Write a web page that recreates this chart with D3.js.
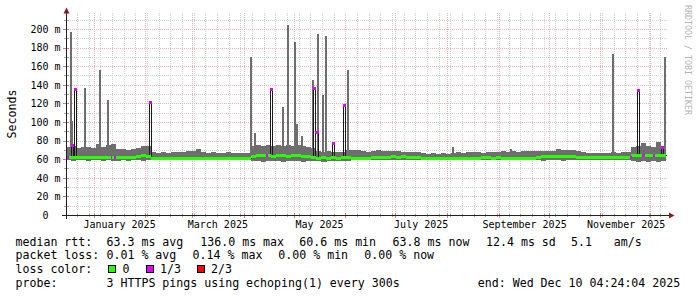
<!DOCTYPE html>
<html><head><meta charset="utf-8">
<script src="https://cdn.jsdelivr.net/npm/d3@7"></script>
<style>html,body{margin:0;padding:0;background:#fff;}svg{display:block}</style>
</head><body>
<svg id="c" width="697" height="297"></svg>
<script>
// ---------- DATA ----------
const START = "2024-12-15T04:24:04Z";
const END   = "2025-12-10T04:24:04Z";
const BUCKET_DAYS = 3;           // each entry below covers 3 days
const smokeMax = [
 73,74,72.5,73,73.5,72,76,73.5,75,76,
 71,70.5,70,70.5,72,74.5,74,67.5,67,67.5,
 67,67.5,68,67.5,68.5,68.5,71,67.5,67,67.5,
 67,67,67.5,66.5,67,66.5,67,74,75,74.5,
 75.5,74.5,75,74,75,74.5,75.5,74,73,72,
 69,68,68.5,68,67.5,67.5,69.5,70,69.5,68.5,
 68,69,69.5,69,69,68.5,68.5,68,67.5,68,
 67.5,66.5,66,66.5,66,66.5,66,67,67.5,67,
 67.5,67.8,67.5,67,67.5,67.8,68,68.5,68,68.5,
 68,68.5,69,68.5,68.8,69,68.5,69,71.5,69.5,
 70,69.5,69,67.5,67,66.5,67,66.5,67,67.5,
 67,67.5,68,73,74,77,74,73.5,78,73];
const smokeMin = [
 59,58.5,59,59,58.5,59,59,58.5,59,58.5,58,59,58.5,59,59,58.5,59,
 59,59.2,59,58.8,59,59.2,59,58.8,59,59,59.2,59,58.8,59,59,59.2,59,58.8,59,59,
 58,58.5,57.5,58,58.5,58,57.5,58.5,58,58,57.5,58,58.5,58,57.5,58,58.5,58,58.5,58.5,
 59,59,58.8,59,59.2,59,58.8,59,59,59,58.8,59,59.2,59,59,58.8,59,59,59.2,59,58.8,59,59,59,58.8,59,59.2,59,59,58.8,59,59,59.2,59,
 59,58.8,59,59,58.5,58.8,59,58.8,58.5,59,58.8,59,59,59.2,59,58.8,59,59,59.2,59,58.8,59,
 57.8,57.5,58,57.5,57.8,57.5,58];
const medianRtt = [
 62.5,62.8,62.5,62.8,62.5,62.5,62.8,62.5,62.8,62.5,62.2,62.5,62.2,62.5,
 63.8,64.2,63.8,
 61,60.8,61,61.3,61,61,61.5,61,60.8,61.3,61,61,61.5,61.3,61,61,60.8,61,61.3,61,
 63.5,64,64.2,64,63.8,64.2,64,63.8,64.2,64,63.8,63.5,
 62,61.8,62.2,61.8,62,61.8,62,62.2,
 61.6,61.5,61.8,61.5,
 62.2,62,62.2,
 62.8,63,62.8,63,62.5,62.8,62.2,61.5,
 61,60.9,61,60.8,61,60.9,61,60.8,61,61,60.9,
 62,62,61.8,62,
 61.3,61.3,61.5,61.3,
 61.6,61.8,61.5,62.5,
 63.2,63,63.4,63.2,63,63.4,63.2,62.8,
 62.2,62,62.2,62.4,62,62.2,62.4,62,62.2,62.5,
 64,64.2,64,64.3,64,64.2,64];
// single-step smoke peaks (day offset from START, max rtt ms)
const spikeDay = [2.4,3.0,10.6,19.6,24.4,110.6,113.0,129.4,132.4,136.6,138.2,141.0,147.4,150.4,153.4,155.6,168.4,231.4,266.4,327.6,358.6];
const spikeMax = [197,101,137,156,123.5,170,88,116,204.5,186,97.5,85,145,195,129.5,192.5,156,73.5,71,173,169.5];
// median jumps (day offset, median ms, loss index)
const medSpikeDay  = [2.9,4.8,49.6,122.4,148.2,149.6,159.6,166.0,342.6,357.0];
const medSpikeVal  = [75,136,121.5,136,137,89,77,118,134,73.5];
const medSpikeLoss = [1,1,1,1,1,1,1,1,1,1];
// short loss periods at normal median (day offset, days, loss index)
const lossDay  = [0.6,26.8,28.8,120.0,338.5,345.6,352.4];
const lossDur  = [1,1,1,1,1,2,1];
const lossIdx  = [1,1,1,1,1,1,1];
const lossColors = ["#26ff00","#dd00ff","#ff0000"];
const lossLabels = ["0","1/3","2/3"];
const yTickValues = [0,20,40,60,80,100,120,140,160,180,200];
const xTickMonths = ["2025-01-01","2025-03-01","2025-05-01","2025-07-01","2025-09-01","2025-11-01"];
const xTickLabels = ["January 2025","March 2025","May 2025","July 2025","September 2025","November 2025"];
const rttNames = ["avg","max","min","now","sd"];
const rttValues = [63.3,136.0,60.6,63.8,12.4];
const amS = 5.1;
const lossNames = ["avg","max","min","now"];
const lossValues = [0.01,0.14,0.00,0.00];
const probeText = "3 HTTPS pings using echoping(1) every 300s";
const endText = "end: Wed Dec 10 04:24:04 2025";

// ---------- DRAW ----------
const MONO = "'DejaVu Sans Mono', monospace";
const SMOKE = "#6e6e6e";
const svg = d3.select("#c");
svg.append("rect").attr("width",697).attr("height",297).attr("fill","#fff");
const DAY = 864e5, t0 = +new Date(START);
const td = d => new Date(t0 + d*DAY);
const x = d3.scaleUtc().domain([new Date(START), new Date(END)]).range([66, 666]);
const y = d3.scaleLinear().domain([0, 217.2]).range([215, 13]);
const px = d => Math.round(x(td(d)));
const py = v => Math.round(y(v));
const nB = smokeMax.length;
const bIdx = d => Math.max(0, Math.min(nB-1, Math.floor(d / BUCKET_DAYS)));

// grid
const grid = svg.append("g").attr("shape-rendering","crispEdges").attr("stroke-dasharray","1,1");
const MINOR = "#d2d2d2", MAJOR = "#eab4b4";
const weeks = d3.utcSunday.range(td(0), td(360));
const months = d3.utcMonth.range(td(0), td(360));
const monthPx = new Set(months.map(m => Math.floor(x(m))));
weeks.filter(w => !monthPx.has(Math.floor(x(w)))).forEach(w => {
  const xx = Math.floor(x(w)) + 0.5;
  grid.append("line").attr("x1",xx).attr("x2",xx).attr("y1",13).attr("y2",215).attr("stroke",MINOR);
});
d3.range(10, 217, 20).forEach(v => {
  const yy = py(v) + 0.5;
  grid.append("line").attr("x1",66).attr("x2",667).attr("y1",yy).attr("y2",yy).attr("stroke",MINOR);
});
months.forEach(m => {
  const xx = Math.floor(x(m)) + 0.5;
  grid.append("line").attr("x1",xx).attr("x2",xx).attr("y1",13).attr("y2",215).attr("stroke",MAJOR);
});
d3.range(20, 217, 20).forEach(v => {
  const yy = py(v) + 0.5;
  grid.append("line").attr("x1",66).attr("x2",667).attr("y1",yy).attr("y2",yy).attr("stroke",MAJOR);
});
// axis ticks
const ticks = svg.append("g").attr("shape-rendering","crispEdges");
weeks.forEach(w => { const xx = Math.floor(x(w)) + 0.5;
  ticks.append("line").attr("x1",xx).attr("x2",xx).attr("y1",214).attr("y2",217).attr("stroke","#aaa"); });
months.forEach(m => { const xx = Math.floor(x(m)) + 0.5;
  ticks.append("line").attr("x1",xx).attr("x2",xx).attr("y1",213).attr("y2",218).attr("stroke","#d88080"); });
d3.range(10, 217, 10).forEach(v => { const yy = py(v) + 0.5;
  ticks.append("line").attr("x1", v%20===0 ? 63 : 64).attr("x2",69).attr("y1",yy).attr("y2",yy).attr("stroke", v%20===0 ? "#d88080" : "#aaa"); });

// smoke
const SPIKE_DUR = 1.2;
const smoke = svg.append("g").attr("shape-rendering","crispEdges");
smoke.selectAll("rect.b").data(smokeMax).join("rect").attr("class","b")
  .attr("x",(d,i)=>px(i*BUCKET_DAYS)).attr("width",(d,i)=>px((i+1)*BUCKET_DAYS)-px(i*BUCKET_DAYS))
  .attr("y",d=>py(d)).attr("height",(d,i)=>py(smokeMin[i])-py(d)).attr("fill",SMOKE);
smoke.selectAll("rect.s").data(spikeDay).join("rect").attr("class","s")
  .attr("x",d=>px(d)).attr("width",d=>Math.max(2, px(d+SPIKE_DUR)-px(d)))
  .attr("y",(d,i)=>py(spikeMax[i])).attr("height",(d,i)=>py(smokeMin[bIdx(d)])-py(spikeMax[i])).attr("fill",SMOKE);

// median line
const MED_DUR = 1.3;
function medAt(d){
  for (let k=0;k<medSpikeDay.length;k++) if (d>=medSpikeDay[k] && d<medSpikeDay[k]+MED_DUR) return medSpikeVal[k];
  return medianRtt[bIdx(d)];
}
let bps = d3.range(0, 360, BUCKET_DAYS);
medSpikeDay.forEach(s => { bps.push(s, s+MED_DUR); });
bps = Array.from(new Set(bps)).sort((a,b)=>a-b);
bps.push(360);
const pts = bps.map(d => [px(d)+0.5, py(medAt(Math.min(d,359.99)))+0.5]);
svg.append("path").attr("d", d3.line().curve(d3.curveStepAfter)(pts))
  .attr("fill","none").attr("stroke","#1a1a1a").attr("stroke-width",1).attr("shape-rendering","crispEdges");

// median band coloured by loss
const band = svg.append("g").attr("shape-rendering","crispEdges");
band.selectAll("rect.b").data(medianRtt).join("rect").attr("class","b")
  .attr("x",(d,i)=>px(i*BUCKET_DAYS)).attr("width",(d,i)=>px((i+1)*BUCKET_DAYS)-px(i*BUCKET_DAYS))
  .attr("y",d=>py(d)-1).attr("height",3).attr("fill",lossColors[0]);
band.selectAll("rect.l").data(lossDay).join("rect").attr("class","l")
  .attr("x",d=>px(d)).attr("width",(d,i)=>Math.max(1,px(d+lossDur[i])-px(d)))
  .attr("y",d=>py(medAt(d))-1).attr("height",3).attr("fill",(d,i)=>lossColors[lossIdx[i]]);
band.selectAll("rect.m").data(medSpikeDay).join("rect").attr("class","m")
  .attr("x",d=>px(d)).attr("width",d=>px(d+MED_DUR)-px(d)+1)
  .attr("y",(d,i)=>py(medSpikeVal[i])-1).attr("height",3).attr("fill",(d,i)=>lossColors[medSpikeLoss[i]]);

// axes lines + arrows
const ax = svg.append("g").attr("shape-rendering","crispEdges");
ax.append("line").attr("x1",66.5).attr("x2",66.5).attr("y1",219).attr("y2",12).attr("stroke","#202020");
ax.append("line").attr("x1",62).attr("x2",670).attr("y1",215.5).attr("y2",215.5).attr("stroke","#202020");
svg.append("path").attr("d","M63.5,13.5L69.5,13.5L66.5,7.5Z").attr("fill","#8c1c1c");
svg.append("path").attr("d","M669,212.5L669,218.5L674.5,215.5Z").attr("fill","#8c1c1c");

// axis labels via d3 axes
const yAxis = d3.axisLeft(y).tickValues(yTickValues).tickSize(0).tickPadding(5.5)
  .tickFormat(v => v===0 ? "0\u00a0\u00a0" : v + " m");
const gy = svg.append("g").attr("transform","translate(66,0)").call(yAxis);
gy.select(".domain").remove();
gy.attr("font-family",MONO).attr("font-size",10);
gy.selectAll("text").attr("fill","#000");
const xAxis = d3.axisBottom(x).tickValues(xTickMonths.map(m => d3.utcDay.offset(new Date(m+"T00:00:00Z"),15)))
  .tickSize(0).tickPadding(5.5).tickFormat((d,i)=>xTickLabels[i]);
const gx = svg.append("g").attr("transform","translate(0,215)").call(xAxis);
gx.select(".domain").remove();
gx.attr("font-family",MONO).attr("font-size",10);
gx.selectAll("text").attr("fill","#000");

// y title
svg.append("text").attr("transform","translate(15.5,114) rotate(-90)").attr("text-anchor","middle")
  .attr("font-family",MONO).attr("font-size",11.6).attr("fill","#000").text("Seconds");
// watermark
svg.append("text").attr("transform","translate(685,5) rotate(90)")
  .attr("font-family",MONO).attr("font-size",8.3).attr("fill","#b4b4b4").text("RRDTOOL / TOBI OETIKER");

// legend
const L = svg.append("g").attr("font-family",MONO).attr("font-size",11.6).attr("fill","#000")
  .attr("style","white-space:pre");
const txt = (xx,yy,s) => L.append("text").attr("x",xx).attr("y",yy).text(s);
const r1 = 245.5, r2 = 259.2, r3 = 272.9, r4 = 286.6;
txt(15.5, r1, "median rtt:");
const rttX = [106.5,200.3,299.3,392.6,486];
rttValues.forEach((v,i)=> txt(rttX[i], r1, v.toFixed(1)+" ms "+rttNames[i]));
txt(571, r1, amS.toFixed(1));
txt(613.8, r1, "am/s");
txt(15.5, r2, "packet loss:");
const lossX = [106.5,192.6,278.3,364.3];
lossValues.forEach((v,i)=> txt(lossX[i], r2, v.toFixed(2)+" % "+lossNames[i]));
txt(15.5, r3, "loss color:");
const boxX = [108.5,146,197], labX = [122.6,160,211];
lossColors.forEach((c,i)=>{
  L.append("rect").attr("x",boxX[i]).attr("y",265.5).attr("width",7).attr("height",7)
    .attr("fill",c).attr("stroke","#000").attr("stroke-width",1).attr("shape-rendering","crispEdges");
  txt(labX[i], r3, lossLabels[i]);
});
txt(15.5, r4, "probe:");
txt(106.5, r4, probeText);
txt(477.8, r4, endText);
</script>
</body></html>
